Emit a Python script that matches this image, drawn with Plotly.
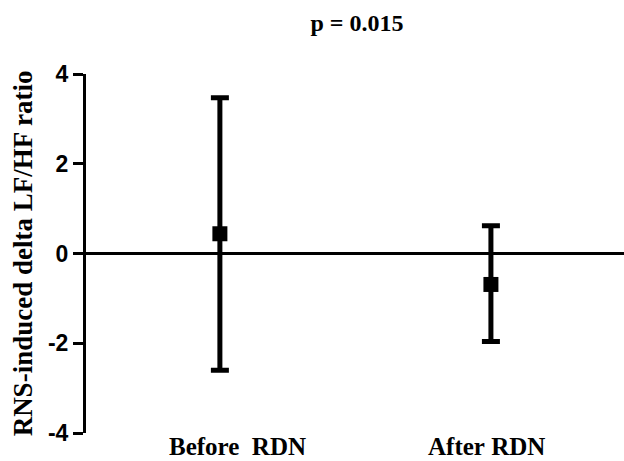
import plotly.graph_objects as go

groups = ["Before  RDN", "After RDN"]
means = [0.44, -0.69]
upper = [3.47, 0.62]
lower = [-2.60, -1.96]
y_ticks = [-4, -2, 0, 2, 4]
y_ticktext = ["-4", "-2", "0", "2", "4"]
title_text = "p = 0.015"
y_title = "RNS-induced delta LF/HF ratio"

xpos = list(range(len(groups)))
err_plus = [u - m for u, m in zip(upper, means)]
err_minus = [m - l for m, l in zip(means, lower)]

fig = go.Figure()
fig.add_trace(go.Scatter(
    x=xpos, y=means, mode="markers",
    marker=dict(symbol="square", size=15, color="black"),
    error_y=dict(type="data", symmetric=False, array=err_plus, arrayminus=err_minus,
                 color="black", thickness=5, width=9),
    showlegend=False,
))

label_shift = [18, -4]
for i, g in enumerate(groups):
    fig.add_annotation(x=xpos[i], y=0, yref="paper", xref="x", text="<b>" + g.replace(" ", "&nbsp;") + "</b>",
                       showarrow=False, yanchor="bottom", yshift=-28, borderpad=0,
                       xshift=label_shift[i],
                       font=dict(family="Liberation Serif", size=25, color="black"))

fig.update_layout(
    width=624, height=461,
    margin=dict(l=86, r=0, t=74, b=28),
    plot_bgcolor="white", paper_bgcolor="white",
    title=dict(text="<b>" + title_text + "</b>", x=0.572, xanchor="center", y=0.950, yanchor="middle",
               font=dict(family="Liberation Serif", size=24, color="black")),
    xaxis=dict(range=[-0.494, 1.491], showticklabels=False, showline=False, showgrid=False,
               zeroline=False, ticks=""),
    yaxis=dict(range=[-4, 4], tickvals=y_ticks, ticktext=y_ticktext, ticks="outside", ticklen=10, tickwidth=3,
               tickcolor="black", showline=True, linewidth=3, linecolor="black",
               showgrid=False, zeroline=True, zerolinewidth=3, zerolinecolor="black",
               tickfont=dict(family="Liberation Sans", size=23, color="black", weight="bold"),
               title=dict(text="<b>" + y_title + "</b>", standoff=8,
                          font=dict(family="Liberation Serif", size=27, color="black"))),
)

fig.write_html("out.html")
